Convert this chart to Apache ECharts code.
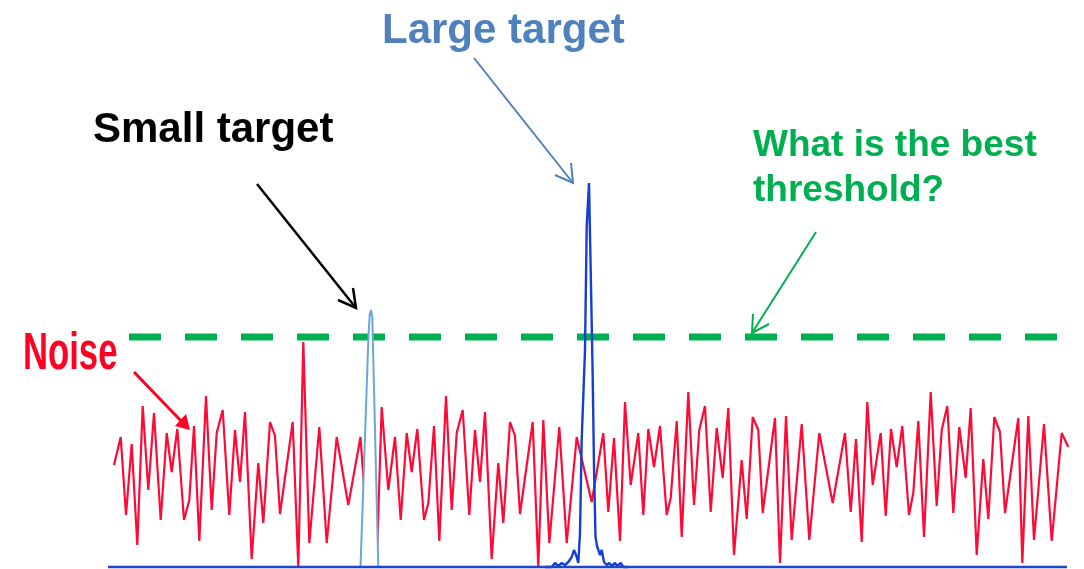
<!DOCTYPE html>
<html>
<head>
<meta charset="utf-8">
<title>Threshold detection</title>
<script src="https://cdn.jsdelivr.net/npm/echarts@6.0.0/dist/echarts.min.js"></script>
<style>
  html, body { margin: 0; padding: 0; background: #fff; }
  #chart { width: 1084px; height: 569px; }
</style>
</head>
<body>
<div id="chart"></div>
<script>
  // sample positions / amplitudes (amplitude 0 = baseline)
  var noiseX = [114, 120.7, 126, 131.7, 137.3, 142.7, 148.3, 154, 160.7, 166.7, 171.7, 177.3, 184, 189.3, 194, 199.3,
    206, 211.7, 216.7, 222.7, 229.3, 235, 240, 245, 251.7, 258.3, 263.3, 270, 275, 280, 292.7, 298.3, 303.3, 309.3,
    319.3, 326.7, 336.7, 348.3, 360.5, 366, 371.7, 377.3, 381.7, 388.3, 395, 400.7, 406.7, 411.7, 417.3, 424, 428.3,
    434, 439.3, 446, 451.7, 456.7, 462.7, 469.3, 475, 480, 485, 491.7, 498.3, 503.3, 510, 515, 520, 532.7, 538.3,
    543.3, 549.3, 559.3, 566.7, 576.7, 591.7, 603.3, 608.3, 614, 620, 625, 630.7, 638.3, 643.3, 648.3, 654, 660,
    666.7, 670.7, 676.7, 681.7, 688.3, 694, 699.3, 705, 710.7, 716.7, 722.7, 728.3, 734, 741.7, 746.7, 752.7, 758.3,
    762.7, 775, 780, 786, 791.7, 801.7, 809.3, 819.3, 832.7, 845, 850.7, 856, 861.7, 867.3, 872.7, 880.7, 885.7, 891,
    896.7, 902.3, 909, 913.3, 918.3, 924, 930.7, 936.7, 941.7, 947.3, 953.3, 959.3, 965.7, 970.7, 976.7, 983.3, 988.3,
    994.3, 1000, 1005, 1018.3, 1022.3, 1028.3, 1034, 1044, 1051.7, 1061.7, 1068.3];
  var noiseY = [102, 130, 52, 123, 22, 161, 77, 154, 47, 134, 95, 138, 47, 67, 141, 26,
    171, 57, 134, 157, 52, 137, 85, 155, 8, 104, 44, 145, 131, 53, 145, 0, 225, 24,
    140, 24, 130, 62, 130, 52, 123, 22, 160, 77, 130, 47, 134, 95, 138, 47, 64,
    141, 26, 171, 57, 134, 157, 52, 137, 85, 155, 8, 104, 44, 145, 131, 53, 145, 0,
    147, 24, 140, 24, 130, 65, 134, 55, 129, 26, 165, 82, 134, 52, 138, 100, 141,
    52, 69, 146, 30, 175, 62, 137, 161, 55, 139, 89, 159, 12, 107, 48, 150, 137,
    54, 149, 4, 151, 27, 143, 27, 134, 64, 134, 55, 128, 25, 165, 82, 134, 51, 138,
    100, 141, 52, 74, 146, 30, 175, 61, 137, 161, 54, 140, 89, 159, 12, 108, 48,
    150, 135, 54, 149, 4, 151, 27, 143, 26, 134, 120];

  var smallX = [360.5, 368.5, 369.7, 371, 372.3, 378.3];
  var smallY = [0, 232, 252, 257, 250, 0];

  var largeX = [545, 551.7, 555, 558.3, 561.7, 565, 568.3, 571.7, 574, 576.7, 578.3, 580, 581.7, 585, 586.7, 589,
    590.7, 592.7, 594, 595.5, 597.3, 600, 601.7, 604, 606.7, 609.3, 611.7, 615, 617.3, 620.7, 623.3, 628];
  var largeY = [0, 0, 4, 1, 4, 2, 5, 10, 17, 10, 4, 34, 127, 217, 340, 384,
    297, 190, 100, 30, 20, 12, 17, 5, 2, 4, 1, 4, 1, 4, 0, 0];

  var baseX = [108, 1067];
  var baseY = [0, 0];

  var threshX = [129, 1058];
  var threshY = [230, 230];

  function pairs(xs, ys) {
    return xs.map(function (x, i) { return [x, ys[i]]; });
  }

  var chart = echarts.init(document.getElementById('chart'));
  chart.setOption({
    animation: false,
    backgroundColor: '#fff',
    grid: { left: 0, right: 0, top: 0, bottom: 0 },
    xAxis: { type: 'value', min: 0, max: 1084, show: false },
    yAxis: { type: 'value', min: -2, max: 567, show: false },
    series: [
      {
        name: 'Noise', type: 'line', z: 2, symbol: 'none',
        lineStyle: { color: '#ff0a36', width: 2.2 },
        data: pairs(noiseX, noiseY)
      },
      {
        name: 'Threshold', type: 'line', z: 3, symbol: 'none',
        lineStyle: { color: '#00b050', width: 7, type: [32, 24] },
        data: pairs(threshX, threshY)
      },
      {
        name: 'Large target', type: 'line', z: 4, symbol: 'none',
        lineStyle: { color: '#1440d0', width: 2.4 },
        data: pairs(largeX, largeY)
      },
      {
        name: 'Small target', type: 'line', z: 5, symbol: 'none',
        lineStyle: { color: '#6aa6d8', width: 2 },
        areaStyle: { color: '#fff', opacity: 1 },
        data: pairs(smallX, smallY)
      },
      {
        name: 'Baseline', type: 'line', z: 6, symbol: 'none',
        lineStyle: { color: '#1f45c8', width: 2.5 },
        data: pairs(baseX, baseY)
      }
    ],
    graphic: [
      { type: 'text', x: 382, y: 31, style: { text: 'Large target', fill: '#4f81bd', font: 'bold 42px "Liberation Sans", Arial', verticalAlign: 'middle' } },
      { type: 'text', x: 93, y: 130, style: { text: 'Small target', fill: '#000', font: 'bold 42px "Liberation Sans", Arial', verticalAlign: 'middle' } },
      { type: 'text', x: 753, y: 146, style: { text: 'What is the best', fill: '#00b050', font: 'bold 37px "Liberation Sans", Arial', verticalAlign: 'middle' } },
      { type: 'text', x: 753, y: 190.5, style: { text: 'threshold?', fill: '#00b050', font: 'bold 37px "Liberation Sans", Arial', verticalAlign: 'middle' } },
      { type: 'text', x: 23, y: 355, scaleX: 0.68, style: { text: 'Noise', fill: '#ff0022', font: 'bold 51px "Liberation Sans", Arial', verticalAlign: 'middle' } },

      // arrows
      { type: 'polyline', shape: { points: [[474, 58], [573, 183]] }, style: { stroke: '#4f81bd', lineWidth: 2 } },
      { type: 'polyline', shape: { points: [[555, 175], [573, 183], [571, 163]] }, style: { stroke: '#4f81bd', lineWidth: 2, fill: null } },

      { type: 'polyline', shape: { points: [[257, 184], [356, 308]] }, style: { stroke: '#000', lineWidth: 2.5 } },
      { type: 'polyline', shape: { points: [[338, 300], [356, 308], [353, 288]] }, style: { stroke: '#000', lineWidth: 2.5, fill: null } },

      { type: 'polyline', shape: { points: [[816, 232], [752, 333]] }, style: { stroke: '#00b050', lineWidth: 2 } },
      { type: 'polyline', shape: { points: [[753, 314], [752, 333], [769, 324]] }, style: { stroke: '#00b050', lineWidth: 2, fill: null } },

      { type: 'polyline', shape: { points: [[134, 372], [184, 424]] }, style: { stroke: '#ff0022', lineWidth: 3 } },
      { type: 'polygon', shape: { points: [[190, 430], [175, 426], [186, 414]] }, style: { fill: '#ff0022' } }
    ]
  });
</script>
</body>
</html>
